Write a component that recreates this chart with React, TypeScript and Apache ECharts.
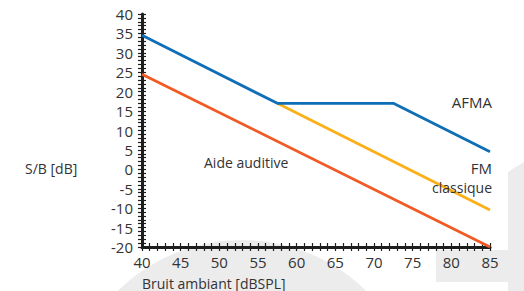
import React, { useEffect, useRef } from "react";
import * as echarts from "echarts";

// Data
const afmaX = [40, 57.5, 72.5, 85];
const afmaY = [34.5, 17, 17, 4.5];
const fmX = [57.5, 85];
const fmY = [17, -10.5];
const aideX = [40, 85];
const aideY = [24.5, -20];

const xMin = 40;
const xMax = 85;
const yMin = -20;
const yMax = 40;
const tickStep = 5;

const seriesNames = ["AFMA", "FM classique", "Aide auditive"];
const xAxisTitle = "Bruit ambiant [dBSPL]";
const yAxisTitle = "S/B [dB]";

const FONT = "'Open Sans', 'Noto Sans', sans-serif";
const TEXT = "#333333";
const AXIS = "#1e1e1e";
const GREY = "#ececec";

function pairs(xs: number[], ys: number[]) {
  return xs.map((x, i) => [x, ys[i]]);
}

export default function App() {
  const ref = useRef<HTMLDivElement>(null);

  useEffect(() => {
    if (!ref.current) return;
    const chart = echarts.init(ref.current, undefined, { renderer: "svg" });

    const tickCommon = {
      show: true,
      length: 4,
      lineStyle: { color: AXIS, width: 1.2 },
    };
    const minorCommon = {
      show: true,
      splitNumber: 5,
      length: 4,
      lineStyle: { color: AXIS, width: 1.2 },
    };

    const xBase = {
      type: "value" as const,
      min: xMin,
      max: xMax,
      interval: tickStep,
      splitLine: { show: false },
      minorSplitLine: { show: false },
    };
    const yBase = {
      type: "value" as const,
      min: yMin,
      max: yMax,
      interval: tickStep,
      splitLine: { show: false },
      minorSplitLine: { show: false },
    };

    chart.setOption({
      animation: false,
      grid: { left: 142, right: 34, top: 14, bottom: 44, containLabel: false },
      xAxis: [
        {
          ...xBase,
          position: "bottom",
          axisLine: { show: true, onZero: false, lineStyle: { color: AXIS, width: 3 } },
          axisTick: { ...tickCommon, inside: false },
          minorTick: { ...minorCommon },
          axisLabel: {
            show: true,
            margin: 7,
            color: TEXT,
            fontSize: 15,
            fontFamily: FONT,
          },
        },
        {
          ...xBase,
          position: "bottom",
          axisLine: { show: false, onZero: false },
          axisTick: { ...tickCommon, inside: true },
          minorTick: { ...minorCommon },
          axisLabel: { show: false },
        },
      ],
      yAxis: [
        {
          ...yBase,
          position: "left",
          axisLine: { show: true, onZero: false, lineStyle: { color: AXIS, width: 3 } },
          axisTick: { ...tickCommon, inside: false },
          minorTick: { ...minorCommon },
          axisLabel: {
            show: true,
            margin: 9,
            color: TEXT,
            fontSize: 15,
            fontFamily: FONT,
          },
        },
        {
          ...yBase,
          position: "left",
          axisLine: { show: false, onZero: false },
          axisTick: { ...tickCommon, inside: true },
          minorTick: { ...minorCommon },
          axisLabel: { show: false },
        },
      ],
      series: [
        {
          name: seriesNames[2],
          type: "line",
          data: pairs(aideX, aideY),
          symbol: "none",
          lineStyle: { color: "#f15a24", width: 2.8 },
          z: 3,
        },
        {
          name: seriesNames[1],
          type: "line",
          data: pairs(fmX, fmY),
          symbol: "none",
          lineStyle: { color: "#fbb01a", width: 2.8 },
          z: 3,
        },
        {
          name: seriesNames[0],
          type: "line",
          data: pairs(afmaX, afmaY),
          symbol: "none",
          lineStyle: { color: "#0e6fb7", width: 2.8 },
          z: 4,
        },
      ],
      graphic: [
        {
          type: "circle",
          shape: { cx: 242, cy: 417, r: 177 },
          style: { fill: GREY },
          z: 0,
          silent: true,
        },
        {
          type: "polygon",
          shape: { points: [[436, 250], [508, 250], [508, 282], [436, 282]] },
          style: { fill: GREY },
          z: 0,
          silent: true,
        },
        {
          type: "polygon",
          shape: { points: [[508, 172], [524, 162], [524, 291], [508, 291]] },
          style: { fill: GREY },
          z: 0,
          silent: true,
        },
        {
          type: "text",
          x: 492,
          y: 102,
          z: 10,
          style: {
            text: "AFMA",
            fill: TEXT,
            fontSize: 15,
            fontFamily: FONT,
            textAlign: "right",
            textVerticalAlign: "middle",
          },
        },
        {
          type: "text",
          x: 492,
          y: 168,
          z: 10,
          style: {
            text: "FM",
            fill: TEXT,
            fontSize: 15,
            fontFamily: FONT,
            textAlign: "right",
            textVerticalAlign: "middle",
          },
        },
        {
          type: "text",
          x: 492,
          y: 187,
          z: 10,
          style: {
            text: "classique",
            fill: TEXT,
            fontSize: 14,
            fontFamily: FONT,
            textAlign: "right",
            textVerticalAlign: "middle",
          },
        },
        {
          type: "text",
          x: 204,
          y: 162,
          z: 10,
          style: {
            text: "Aide auditive",
            fill: TEXT,
            fontSize: 14,
            fontFamily: FONT,
            textAlign: "left",
            textVerticalAlign: "middle",
          },
        },
        {
          type: "text",
          x: 25,
          y: 168,
          z: 10,
          style: {
            text: yAxisTitle,
            fill: TEXT,
            fontSize: 14,
            fontFamily: FONT,
            textAlign: "left",
            textVerticalAlign: "middle",
          },
        },
        {
          type: "text",
          x: 142,
          y: 283,
          z: 10,
          style: {
            text: xAxisTitle,
            fill: TEXT,
            fontSize: 14,
            fontFamily: FONT,
            textAlign: "left",
            textVerticalAlign: "middle",
          },
        },
      ],
    });

    return () => {
      chart.dispose();
    };
  }, []);

  return (
    <div
      ref={ref}
      style={{ position: "absolute", left: 0, top: 0, width: 524, height: 291, background: "#ffffff" }}
    />
  );
}
